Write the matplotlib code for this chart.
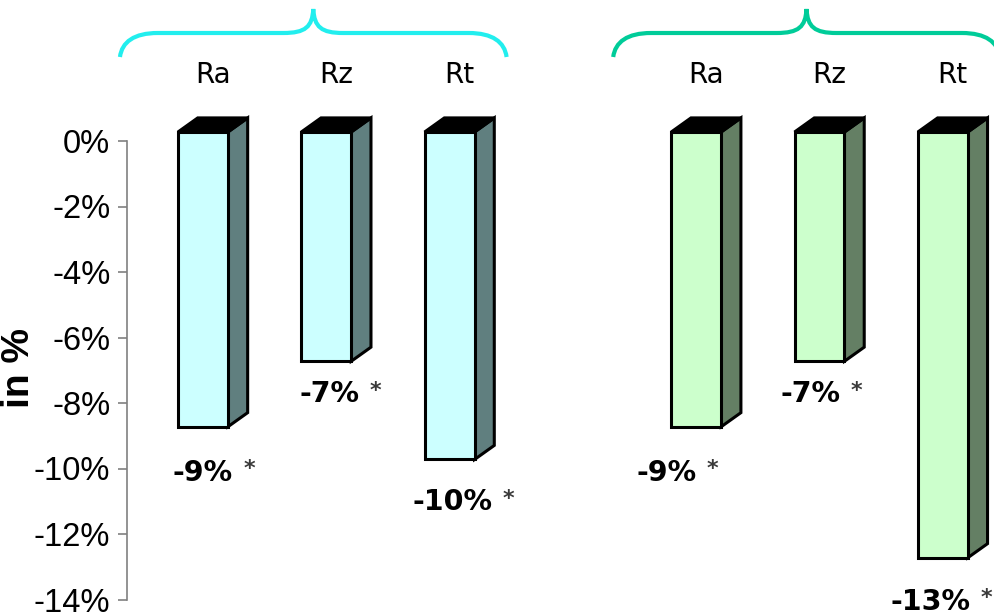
import matplotlib
matplotlib.use('Agg')
import matplotlib.pyplot as plt
from matplotlib.patches import Polygon, PathPatch
from matplotlib.path import Path
import matplotlib.transforms as mtransforms

# ---------------- data ----------------
categories = ['Ra', 'Rz', 'Rt', 'Ra', 'Rz', 'Rt']
values = [-9, -7, -10, -9, -7, -13]          # percent change
group_of_bar = [0, 0, 0, 1, 1, 1]
slot_of_bar = [0, 1, 2, 4, 5, 6]
ytick_values = [0, -2, -4, -6, -8, -10, -12, -14]
ytick_labels = ['0%', '-2%', '-4%', '-6%', '-8%', '-10%', '-12%', '-14%']
ylabel_text = 'in %'
significance_mark = '*'

# ---------------- style ----------------
front_colors = ['#CCFFFF', '#CCFFCC']
side_colors = ['#607F7F', '#647F64']
brace_colors = ['#22EEEE', '#00CC99']
label_dx_px = [0, 3, 3, -30, -9, -12]
label_gap_px = [54, 41, 51, 54, 41, 52]

W, H = 995, 616
fig = plt.figure(figsize=(W / 100, H / 100), dpi=100)
ax = fig.add_axes([127 / W, (H - 599.5) / H, (W - 127) / W, (599.5 - 141) / H])
ax.set_xlim(-0.616, 6.423)
ax.set_ylim(-14, 0)

bar_w = 0.405      # front face width (slot units)
depth_x = 0.16     # 3D depth (slot units)
depth_y = 0.43     # 3D depth (percent units)
shift = 0.275      # 3D front-face lift

for slot, v, g in zip(slot_of_bar, values, group_of_bar):
    x0, x1 = slot - bar_w / 2, slot + bar_w / 2
    yt, yb = shift, v + shift
    side = Polygon([(x1, yb), (x1 + depth_x, yb + depth_y), (x1 + depth_x, yt + depth_y), (x1, yt)],
                   closed=True, fc=side_colors[g], ec='black', lw=2.2, joinstyle='miter',
                   clip_on=False, zorder=3)
    top = Polygon([(x0, yt), (x1, yt), (x1 + depth_x, yt + depth_y), (x0 + depth_x, yt + depth_y)],
                  closed=True, fc='black', ec='black', lw=2.2, joinstyle='miter',
                  clip_on=False, zorder=3)
    front = Polygon([(x0, yb), (x1, yb), (x1, yt), (x0, yt)], closed=True,
                    fc=front_colors[g], ec='black', lw=2.2, joinstyle='miter',
                    clip_on=False, zorder=4)
    for p in (side, top, front):
        ax.add_patch(p)

# value labels with significance marks
for i, (slot, v) in enumerate(zip(slot_of_bar, values)):
    t = ax.annotate(f'{v}%', xy=(slot, v + shift), xycoords='data',
                    xytext=(label_dx_px[i], -label_gap_px[i]), textcoords='offset pixels',
                    ha='center', va='baseline', fontsize=20.5, fontweight='bold',
                    family='DejaVu Sans', color='black', annotation_clip=False, zorder=5)
    ax.annotate(significance_mark, xy=(1, 0.80), xycoords=t,
                xytext=(16, 5), textcoords='offset pixels',
                ha='center', va='top', fontsize=16, fontweight='bold', family='DejaVu Sans',
                color='#3a3a3a', annotation_clip=False, zorder=5)

# category labels on top
blend = mtransforms.blended_transform_factory(ax.transData, fig.transFigure)
for slot, c in zip(slot_of_bar, categories):
    ax.text(slot + depth_x / 2, 1 - 83 / H, c, transform=blend, ha='center', va='baseline',
            fontsize=20, family='DejaVu Sans', color='black', clip_on=False)

# axes styling
ax.set_yticks(ytick_values)
ax.set_yticklabels(ytick_labels, family='Liberation Sans')
ax.tick_params(axis='y', length=6.5, width=1.2, color='#808080', pad=5.5,
               labelsize=23.5, labelcolor='black')
ax.set_xticks([])
for s in ('top', 'right', 'bottom'):
    ax.spines[s].set_visible(False)
ax.spines['left'].set_color('#808080')
ax.spines['left'].set_linewidth(1.2)
ax.patch.set_alpha(0)

fig.text(19 / W, 1 - 368 / H, ylabel_text, rotation=90, ha='center', va='center',
         fontsize=28, fontweight='bold', family='Liberation Sans')

# braces above each group
ov = fig.add_axes([0, 0, 1, 1], zorder=-1)
ov.set_xlim(0, W)
ov.set_ylim(H, 0)
ov.axis('off')


def px(slot):
    return ax.transData.transform((slot, 0))[0]


def brace(L, R, color):
    C = (L + R) / 2
    yb, ym, yt = 57, 33, 9
    verts = [(L, yb), (L + 2, 42), (L + 14, ym), (L + 38, ym),
             (C - 30, ym),
             (C - 8, ym), (C - 1, 27), (C, yt),
             (C + 1, 27), (C + 8, ym), (C + 30, ym),
             (R - 38, ym),
             (R - 14, ym), (R - 2, 42), (R, yb)]
    codes = [Path.MOVETO, Path.CURVE4, Path.CURVE4, Path.CURVE4,
             Path.LINETO,
             Path.CURVE4, Path.CURVE4, Path.CURVE4,
             Path.CURVE4, Path.CURVE4, Path.CURVE4,
             Path.LINETO,
             Path.CURVE4, Path.CURVE4, Path.CURVE4]
    ov.add_patch(PathPatch(Path(verts, codes), fill=False, ec=color, lw=3.0,
                           capstyle='butt', clip_on=False))


for g in (0, 1):
    sl = [s for s, gg in zip(slot_of_bar, group_of_bar) if gg == g]
    brace(px(min(sl)) - 83, px(max(sl)) + 57, brace_colors[g])

fig.savefig('out.png', dpi=100)
